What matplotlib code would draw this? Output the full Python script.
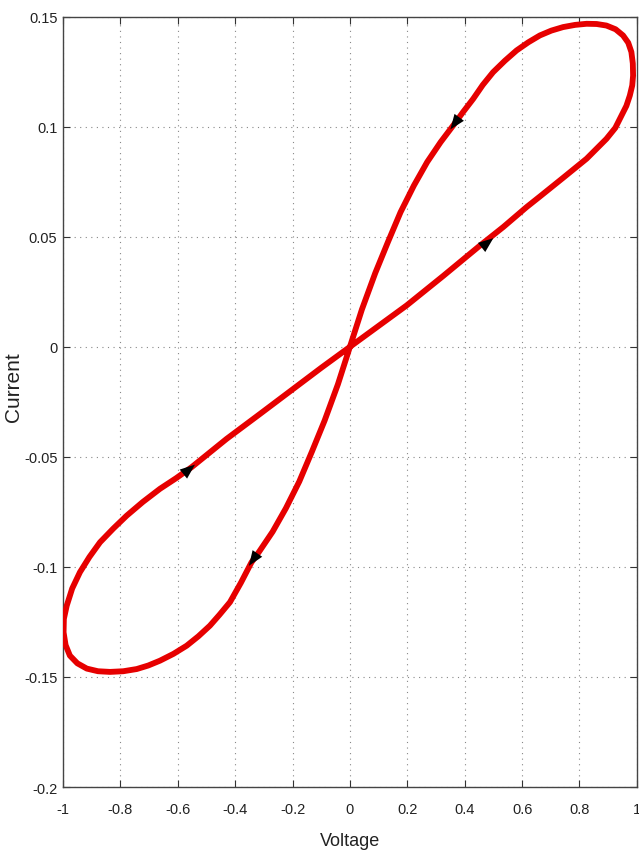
import matplotlib
matplotlib.use("Agg")
import matplotlib.pyplot as plt

# Upper-right lobe: shallow branch out from origin, around the top, steep branch back
upper_x = [0.0, 0.0987, 0.1975, 0.325, 0.453, 0.535, 0.6157, 0.662, 0.743, 0.825, 0.894,
           0.925, 0.9466, 0.9636, 0.9756, 0.984, 0.987, 0.986, 0.981, 0.970, 0.952, 0.926,
           0.894, 0.860, 0.825, 0.785, 0.743, 0.702, 0.662, 0.622, 0.581, 0.540, 0.499,
           0.463, 0.4297, 0.395, 0.36, 0.316, 0.2694, 0.223, 0.1765, 0.1324, 0.0882,
           0.0418, 0.0]
upper_y = [0.0, 0.0094, 0.0188, 0.0322, 0.046, 0.0545, 0.0635, 0.0683, 0.0768, 0.0855, 0.0945,
           0.0995, 0.1051, 0.1095, 0.1142, 0.1188, 0.1233, 0.1288, 0.1340, 0.1382, 0.1415, 0.1443,
           0.1460, 0.1467, 0.1468, 0.1463, 0.1453, 0.1437, 0.1415, 0.1384, 0.1347, 0.1300, 0.1248,
           0.1190, 0.1127, 0.1068, 0.1006, 0.0930, 0.0840, 0.0733, 0.0612, 0.0476, 0.0335,
           0.0170, 0.0]
# Lower-left lobe: steep branch down from origin, around the bottom, shallow branch back
lower_x = [0.0, -0.0418, -0.0882, -0.1324, -0.1765, -0.223, -0.2694, -0.316, -0.343, -0.38,
           -0.418, -0.455, -0.488, -0.528, -0.569, -0.615, -0.662, -0.703, -0.743, -0.790,
           -0.836, -0.878, -0.917, -0.950, -0.976, -0.991, -0.998, -0.997, -0.987, -0.968,
           -0.941, -0.908, -0.871, -0.825, -0.778, -0.722, -0.662, -0.606, -0.552, -0.4297,
           -0.3136, -0.1975, -0.0987, 0.0]
lower_y = [0.0, -0.0170, -0.0335, -0.0476, -0.0612, -0.0733, -0.0840, -0.0930, -0.0979, -0.1072,
           -0.1160, -0.1218, -0.1267, -0.1315, -0.1358, -0.1395, -0.1426, -0.1448, -0.1464, -0.1474,
           -0.1477, -0.1474, -0.1462, -0.1438, -0.1403, -0.1355, -0.1297, -0.1236, -0.1176, -0.1098,
           -0.1024, -0.0955, -0.0888, -0.0826, -0.0767, -0.0705, -0.0645, -0.0597, -0.0547, -0.0418,
           -0.0305, -0.0191, -0.0094, 0.0]

# Direction arrows: (tail, head)
arrows = [((0.372, 0.1027), (0.350, 0.0988)),
          ((0.47, 0.0463), (0.50, 0.0494)),
          ((-0.57, -0.0567), (-0.54, -0.0535)),
          ((-0.332, -0.0957), (-0.352, -0.0995))]

x_ticks = [-1, -0.8, -0.6, -0.4, -0.2, 0, 0.2, 0.4, 0.6, 0.8, 1]
x_labels = ["-1", "-0.8", "-0.6", "-0.4", "-0.2", "0", "0.2", "0.4", "0.6", "0.8", "1"]
y_ticks = [-0.2, -0.15, -0.1, -0.05, 0, 0.05, 0.1, 0.15]
y_labels = ["-0.2", "-0.15", "-0.1", "-0.05", "0", "0.05", "0.1", "0.15"]

plt.rcParams['font.family'] = ['Liberation Sans', 'DejaVu Sans']
fig = plt.figure(figsize=(6.39, 8.53), dpi=100)
ax = fig.add_axes([0.0986, 0.0762, 0.898, 0.903])

ax.plot(upper_x, upper_y, color='#e60000', lw=4.2, solid_capstyle='round', solid_joinstyle='round', zorder=3)
ax.plot(lower_x, lower_y, color='#e60000', lw=4.2, solid_capstyle='round', solid_joinstyle='round', zorder=3)

for (t, h) in arrows:
    ax.annotate("", xy=h, xytext=t,
                arrowprops=dict(arrowstyle='-|>,head_length=0.9,head_width=0.35', color='black',
                                lw=0, shrinkA=0, shrinkB=0, mutation_scale=12), zorder=4)

ax.set_xlim(-1, 1)
ax.set_ylim(-0.2, 0.15)
ax.set_xticks(x_ticks)
ax.set_xticklabels(x_labels)
ax.set_yticks(y_ticks)
ax.set_yticklabels(y_labels)
ax.grid(True, linestyle=(0, (1, 4)), color='#888888', lw=0.8)
ax.tick_params(direction='in', top=True, right=True, labelsize=10.5, length=5,
               color='#333333', labelcolor='#222222')
ax.tick_params(axis='x', pad=11)
ax.tick_params(axis='y', pad=4)
for s in ax.spines.values():
    s.set_color('#444444')
    s.set_linewidth(1.0)
ax.set_xlabel("Voltage", fontsize=13, labelpad=11, color='#222222')
ax.set_ylabel("Current", fontsize=15, color='#222222')
ax.yaxis.set_label_coords(-0.07, 0.52)

fig.savefig("out.png", dpi=100)
